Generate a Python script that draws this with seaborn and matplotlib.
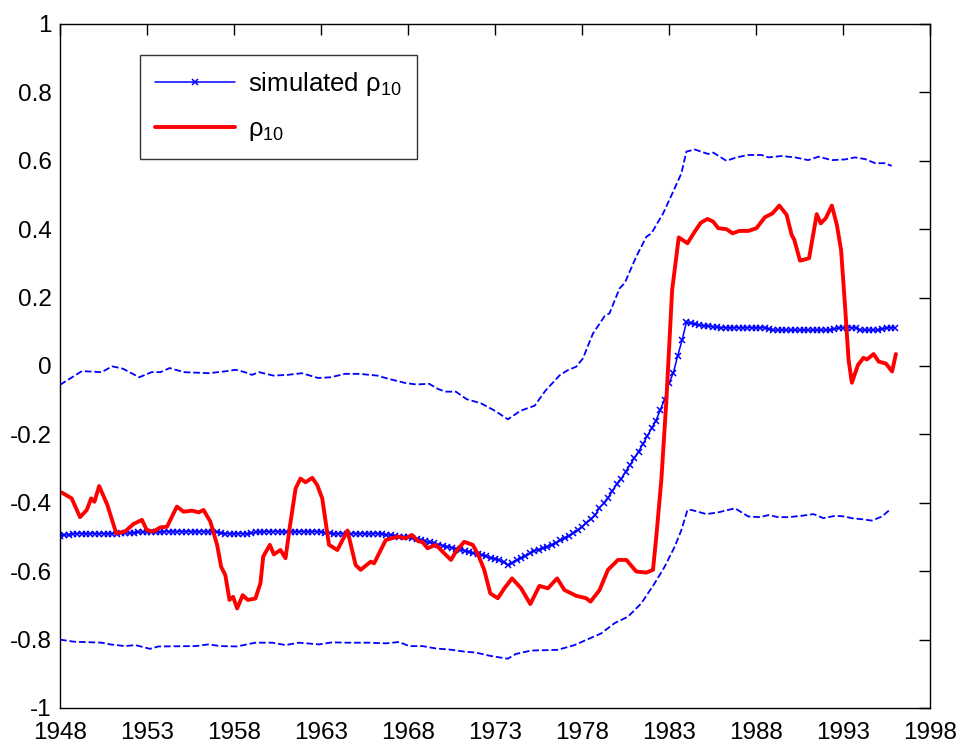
import numpy as np
import matplotlib
matplotlib.use("Agg")
import matplotlib.pyplot as plt
import seaborn as sns

# ---- data ----
# rho_10 (red, irregular samples)
red_years = [1948.1, 1948.67, 1949.15, 1949.54, 1949.79, 1949.98, 1950.25, 1950.72, 1951.23, 1951.74,
             1952.22, 1952.71, 1952.99, 1953.37, 1953.76, 1954.15, 1954.72, 1955.10, 1955.59, 1955.97,
             1956.25, 1956.64, 1957.03, 1957.26, 1957.50, 1957.74, 1957.95, 1958.18, 1958.50, 1958.79,
             1959.23, 1959.52, 1959.68, 1960.06, 1960.29, 1960.67, 1960.96, 1961.21, 1961.54, 1961.82,
             1962.11, 1962.50, 1962.79, 1963.07, 1963.46, 1963.94, 1964.52, 1964.99, 1965.28, 1965.86,
             1966.05, 1966.72, 1967.40, 1967.87, 1968.22, 1968.58, 1968.84, 1969.12, 1969.60, 1969.99,
             1970.47, 1970.75, 1971.23, 1971.72, 1972.00, 1972.38, 1972.73, 1973.16, 1973.54, 1973.98,
             1974.50, 1975.03, 1975.55, 1976.04, 1976.57, 1976.99, 1977.67, 1978.24, 1978.49, 1979.01,
             1979.49, 1980.07, 1980.55, 1981.12, 1981.70, 1982.08, 1982.27, 1982.56, 1982.85, 1983.18,
             1983.56, 1984.06, 1984.48, 1984.83, 1985.21, 1985.54, 1985.83, 1986.31, 1986.65, 1987.04,
             1987.56, 1988.03, 1988.51, 1988.94, 1989.34, 1989.76, 1990.05, 1990.20, 1990.53, 1991.05,
             1991.49, 1991.72, 1992.01, 1992.36, 1992.65, 1992.89, 1993.12, 1993.32, 1993.51, 1993.86,
             1994.18, 1994.37, 1994.76, 1995.05, 1995.47, 1995.82, 1996.04]
red_vals = [-0.37, -0.387, -0.442, -0.421, -0.387, -0.397, -0.351, -0.406, -0.489, -0.484,
            -0.462, -0.45, -0.48, -0.484, -0.472, -0.47, -0.411, -0.426, -0.423, -0.428,
            -0.421, -0.455, -0.523, -0.587, -0.611, -0.684, -0.675, -0.709, -0.67, -0.684,
            -0.68, -0.635, -0.557, -0.523, -0.551, -0.538, -0.562, -0.47, -0.358, -0.329,
            -0.34, -0.327, -0.349, -0.387, -0.523, -0.538, -0.481, -0.582, -0.596, -0.572,
            -0.577, -0.509, -0.499, -0.504, -0.494, -0.512, -0.515, -0.533, -0.523, -0.543,
            -0.567, -0.543, -0.514, -0.523, -0.548, -0.596, -0.665, -0.679, -0.65, -0.621,
            -0.65, -0.696, -0.643, -0.65, -0.621, -0.655, -0.672, -0.679, -0.689, -0.655,
            -0.596, -0.567, -0.567, -0.601, -0.604, -0.596, -0.499, -0.333, -0.1, 0.222,
            0.376, 0.359, 0.393, 0.419, 0.43, 0.422, 0.403, 0.4, 0.388, 0.395,
            0.395, 0.403, 0.435, 0.446, 0.469, 0.442, 0.383, 0.369, 0.308, 0.315,
            0.444, 0.417, 0.432, 0.469, 0.412, 0.339, 0.173, 0.018, -0.049, 0.003,
            0.024, 0.019, 0.035, 0.013, 0.007, -0.016, 0.035]

# simulated rho_10 (quarterly, 1948Q1 .. 1996Q1)
sim_years = np.arange(1948, 1996.01, 0.25)
sim_vals = [
    -0.497, -0.495, -0.493, -0.490,  # 1948
    -0.490, -0.490, -0.490, -0.490,  # 1949
    -0.490, -0.490, -0.490, -0.490,  # 1950
    -0.490, -0.490, -0.488, -0.488,  # 1951
    -0.488, -0.487, -0.486, -0.485,  # 1952
    -0.485, -0.485, -0.485, -0.485,  # 1953
    -0.484, -0.484, -0.484, -0.484,  # 1954
    -0.484, -0.484, -0.484, -0.484,  # 1955
    -0.484, -0.484, -0.484, -0.484,  # 1956
    -0.485, -0.488, -0.490, -0.490,  # 1957
    -0.490, -0.490, -0.490, -0.490,  # 1958
    -0.489, -0.486, -0.485, -0.484,  # 1959
    -0.484, -0.484, -0.484, -0.484,  # 1960
    -0.484, -0.484, -0.484, -0.484,  # 1961
    -0.484, -0.484, -0.484, -0.484,  # 1962
    -0.485, -0.487, -0.489, -0.490,  # 1963
    -0.490, -0.490, -0.490, -0.490,  # 1964
    -0.490, -0.490, -0.490, -0.490,  # 1965
    -0.490, -0.490, -0.491, -0.493,  # 1966
    -0.495, -0.497, -0.499, -0.500,  # 1967
    -0.501, -0.504, -0.507, -0.510,  # 1968
    -0.513, -0.516, -0.519, -0.522,  # 1969
    -0.525, -0.528, -0.531, -0.534,  # 1970
    -0.537, -0.540, -0.544, -0.547,  # 1971
    -0.550, -0.553, -0.557, -0.561,  # 1972
    -0.564, -0.568, -0.574, -0.582,  # 1973
    -0.575, -0.568, -0.562, -0.556,  # 1974
    -0.548, -0.540, -0.537, -0.533,  # 1975
    -0.528, -0.523, -0.517, -0.510,  # 1976
    -0.503, -0.496, -0.489, -0.480,  # 1977
    -0.470, -0.458, -0.448, -0.437,  # 1978
    -0.415, -0.402, -0.385, -0.365,  # 1979
    -0.345, -0.330, -0.310, -0.290,  # 1980
    -0.270, -0.250, -0.228, -0.205,  # 1981
    -0.182, -0.160, -0.128, -0.098,  # 1982
    -0.050, -0.020, 0.030, 0.075,    # 1983
    0.128, 0.125, 0.122, 0.120,      # 1984
    0.118, 0.117, 0.115, 0.113,      # 1985
    0.112, 0.112, 0.112, 0.112,      # 1986
    0.112, 0.112, 0.112, 0.112,      # 1987
    0.112, 0.112, 0.112, 0.108,      # 1988
    0.105, 0.105, 0.105, 0.105,      # 1989
    0.105, 0.105, 0.105, 0.105,      # 1990
    0.105, 0.105, 0.105, 0.105,      # 1991
    0.105, 0.105, 0.108, 0.112,      # 1992
    0.112, 0.112, 0.112, 0.112,      # 1993
    0.105, 0.105, 0.105, 0.105,      # 1994
    0.105, 0.108, 0.112, 0.112,      # 1995
    0.112,                           # 1996
]

# upper and lower dashed bands
upper_years = [1948.0, 1949.26, 1950.39, 1951.0, 1951.62, 1952.55, 1953.27, 1953.78, 1954.3, 1955.12,
               1956.56, 1957.59, 1958.1, 1958.62, 1959.03, 1959.44, 1960.26, 1961.08, 1961.9, 1962.83,
               1963.55, 1964.38, 1965.2, 1966.23, 1966.84, 1967.87, 1968.49, 1969.21, 1969.72, 1970.14,
               1970.75, 1971.37, 1972.19, 1973.0, 1973.74, 1974.46, 1975.28, 1975.9, 1976.72, 1977.19,
               1977.67, 1978.05, 1978.63, 1979.3, 1979.58, 1980.16, 1980.45, 1981.12, 1981.7, 1981.99,
               1982.66, 1983.24, 1983.71, 1984.0, 1984.48, 1985.25, 1985.54, 1986.3, 1986.88, 1987.56,
               1988.32, 1988.71, 1989.47, 1990.24, 1991.0, 1991.59, 1992.36, 1993.12, 1993.7, 1994.27,
               1994.85, 1995.42, 1995.8]
upper_vals = [-0.055, -0.015, -0.018, -0.001, -0.008, -0.033, -0.018, -0.018, -0.006, -0.018,
              -0.021, -0.015, -0.011, -0.018, -0.026, -0.018, -0.028, -0.026, -0.021, -0.035,
              -0.033, -0.023, -0.023, -0.028, -0.037, -0.05, -0.054, -0.052, -0.067, -0.075,
              -0.075, -0.097, -0.109, -0.131, -0.156, -0.131, -0.116, -0.072, -0.027, -0.012,
              -0.002, 0.022, 0.095, 0.146, 0.154, 0.227, 0.242, 0.32, 0.378, 0.388,
              0.446, 0.51, 0.563, 0.627, 0.633, 0.62, 0.624, 0.6, 0.61, 0.617,
              0.617, 0.61, 0.614, 0.61, 0.602, 0.612, 0.602, 0.604, 0.61, 0.605,
              0.593, 0.593, 0.585]

lower_years = [1948.0, 1948.77, 1950.4, 1950.88, 1951.74, 1952.32, 1953.18, 1953.66, 1955.78, 1956.54,
               1957.22, 1958.18, 1959.23, 1960.2, 1960.96, 1961.73, 1962.88, 1963.65, 1964.42, 1965.76,
               1966.72, 1967.49, 1968.06, 1968.84, 1969.6, 1970.37, 1971.23, 1971.9, 1972.67, 1973.73,
               1974.2, 1975.07, 1976.6, 1977.57, 1979.1, 1979.87, 1980.64, 1981.41, 1982.18, 1982.75,
               1983.33, 1983.71, 1984.06, 1984.3, 1985.15, 1985.83, 1986.79, 1987.56, 1988.23, 1988.71,
               1989.29, 1989.86, 1990.63, 1991.3, 1991.88, 1992.55, 1993.1, 1993.5, 1994.08, 1994.66,
               1995.24, 1995.72]
lower_vals = [-0.80, -0.806, -0.809, -0.814, -0.819, -0.816, -0.827, -0.82, -0.819, -0.814,
              -0.819, -0.82, -0.809, -0.809, -0.816, -0.809, -0.814, -0.808, -0.809, -0.809,
              -0.811, -0.807, -0.819, -0.819, -0.826, -0.829, -0.835, -0.838, -0.847, -0.856,
              -0.842, -0.832, -0.83, -0.816, -0.782, -0.752, -0.733, -0.694, -0.635, -0.587,
              -0.528, -0.48, -0.421, -0.421, -0.433, -0.428, -0.416, -0.44, -0.442, -0.436,
              -0.442, -0.442, -0.438, -0.433, -0.445, -0.438, -0.44, -0.445, -0.448, -0.452,
              -0.44, -0.419]

x_ticks = [1948, 1953, 1958, 1963, 1968, 1973, 1978, 1983, 1988, 1993, 1998]
y_ticks = [-1, -0.8, -0.6, -0.4, -0.2, 0, 0.2, 0.4, 0.6, 0.8, 1]
y_labels = ["-1", "-0.8", "-0.6", "-0.4", "-0.2", "0", "0.2", "0.4", "0.6", "0.8", "1"]

# ---- style ----
sns.set_style("white")
plt.rcParams["font.family"] = ["Liberation Sans", "DejaVu Sans"]
plt.rcParams["text.color"] = "black"
plt.rcParams["mathtext.fontset"] = "custom"
plt.rcParams["mathtext.rm"] = "Liberation Sans"
plt.rcParams["mathtext.it"] = "Liberation Sans"

fig = plt.figure(figsize=(9.63, 7.45), dpi=100)
ax = fig.add_axes([60 / 963, 1 - 708 / 745, 870 / 963, 684 / 745])

sns.lineplot(x=upper_years, y=upper_vals, ax=ax, color="blue", linestyle="--", linewidth=1.3)
sns.lineplot(x=lower_years, y=lower_vals, ax=ax, color="blue", linestyle="--", linewidth=1.3)
sns.lineplot(x=sim_years, y=sim_vals, ax=ax, color="blue", linewidth=1.1,
             marker="x", markersize=4, markeredgewidth=1.1, markeredgecolor="blue",
             label=r"simulated ρ$_{10}$")
sns.lineplot(x=red_years, y=red_vals, ax=ax, color="red", linewidth=2.8, label=r"ρ$_{10}$")

ax.set_xlim(1948, 1998)
ax.set_ylim(-1, 1)
ax.set_xticks(x_ticks)
ax.set_xticklabels([str(t) for t in x_ticks])
ax.set_yticks(y_ticks)
ax.set_yticklabels(y_labels)
ax.set_xlabel("")
ax.set_ylabel("")
ax.tick_params(direction="in", top=True, right=True, length=8, width=1.0,
               labelsize=17.5, colors="black")
ax.tick_params(axis="x", pad=10)
ax.tick_params(axis="y", pad=6)
for s in ax.spines.values():
    s.set_color("black")
    s.set_linewidth(1.0)

leg = ax.legend(loc="upper left", bbox_to_anchor=(0.092, 0.955), borderaxespad=0,
                fontsize=18.5, frameon=True, fancybox=False, edgecolor="black",
                handlelength=3.1, labelspacing=0.75, borderpad=0.6, handletextpad=0.5,
                numpoints=1)
leg.get_frame().set_linewidth(1.0)
for t in leg.get_texts():
    t.set_color("black")

fig.savefig("out.png", dpi=100)
